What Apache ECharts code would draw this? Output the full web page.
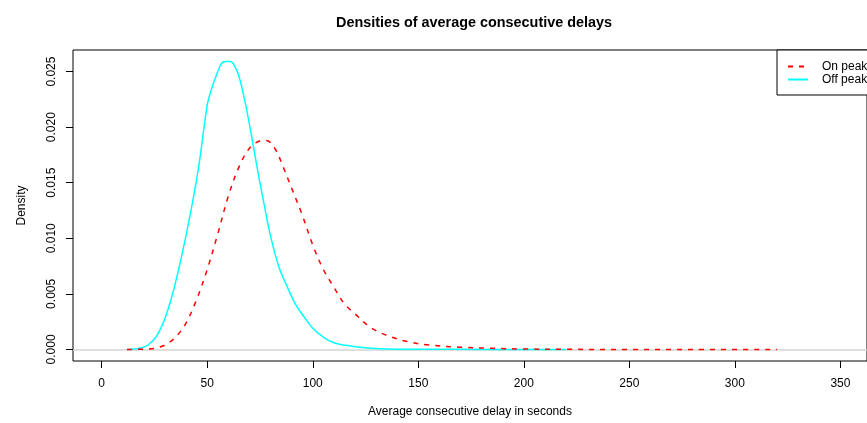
<!DOCTYPE html>
<html>
<head>
<meta charset="utf-8">
<script src="https://cdn.jsdelivr.net/npm/echarts@6/dist/echarts.min.js"></script>
<style>html,body{margin:0;padding:0;background:#fff;}#c{width:867px;height:423px;}</style>
</head>
<body>
<div id="c"></div>
<script>
var titleText = 'Densities of average consecutive delays';
var xName = 'Average consecutive delay in seconds';
var yName = 'Density';
var seriesNames = ['On peak', 'Off peak'];
var xTicks = [0, 50, 100, 150, 200, 250, 300, 350];
var yTicks = [0, 0.005, 0.010, 0.015, 0.020, 0.025];

var onX = [12, 20, 25, 30, 35, 40, 45, 50, 55, 60, 65, 70, 75, 78, 82, 86, 90, 95, 100, 105, 110, 115, 120, 128, 136, 145, 155, 170, 185, 200, 220, 250, 280, 320];
var onY = [0, 0.00003, 0.0001, 0.0004, 0.0011, 0.0024, 0.0045, 0.0072, 0.0104, 0.0138, 0.0164, 0.0181, 0.01875, 0.0188, 0.0181, 0.0164, 0.0145, 0.0121, 0.0094, 0.0072, 0.0056, 0.0041, 0.0032, 0.0019, 0.0012, 0.0007, 0.0004, 0.0002, 0.0001, 0.00004, 0.00001, 0, 0, 0];

var offX = [12, 18, 22, 26, 30, 34, 38, 42, 46, 50, 52, 55, 57, 59, 61, 63, 65, 68, 71, 74, 77, 80, 84, 88, 92, 96, 100, 105, 110, 118, 126, 135, 150, 170, 200, 220];
var offY = [0, 0.0001, 0.0004, 0.0012, 0.0028, 0.0053, 0.0085, 0.0122, 0.0165, 0.0220, 0.0234, 0.0250, 0.0258, 0.0259, 0.0259, 0.0255, 0.0246, 0.0222, 0.0192, 0.0160, 0.0130, 0.0102, 0.0074, 0.0056, 0.0040, 0.0029, 0.0019, 0.0011, 0.0006, 0.0003, 0.00012, 0.00005, 0.00002, 0.00001, 0, 0];

function pairs(xs, ys) { return xs.map(function (x, i) { return [x, ys[i]]; }); }

var font = 'Liberation Sans, Arial, Helvetica, sans-serif';
var chart = echarts.init(document.getElementById('c'), null, {renderer: 'canvas'});
chart.setOption({
  animation: false,
  backgroundColor: '#ffffff',
  title: {
    text: titleText, left: 469, top: 11, textAlign: 'center',
    textStyle: {fontFamily: font, fontSize: 14.4, fontWeight: 'bold', color: '#000'}
  },
  legend: {
    data: seriesNames, orient: 'vertical', left: 777, top: 50,
    padding: [10, 10, 9, 10], itemGap: 0, itemWidth: 20, itemHeight: 13,
    borderColor: '#000', borderWidth: 1, backgroundColor: '#fff',
    itemStyle: {color: 'transparent', borderColor: 'transparent', borderWidth: 0},
    textStyle: {fontFamily: font, fontSize: 12, lineHeight: 13, color: '#000', padding: [0, 0, 0, 9]}
  },
  grid: {left: 73, top: 50, right: -8, bottom: 62, show: true, borderColor: '#000', borderWidth: 1, backgroundColor: 'transparent'},
  xAxis: {
    type: 'value', min: -13.6, max: 362.6,
    name: xName, nameLocation: 'middle', nameGap: 45,
    nameTextStyle: {fontFamily: font, fontSize: 12, color: '#000'},
    axisLine: {show: false, onZero: false},
    axisTick: {show: true, length: 7, customValues: xTicks, lineStyle: {color: '#000'}},
    axisLabel: {customValues: xTicks, margin: 17, fontFamily: font, fontSize: 12, color: '#000'},
    splitLine: {show: false}
  },
  yAxis: {
    type: 'value', min: -0.00104, max: 0.02694,
    name: yName, nameLocation: 'middle', nameGap: 45,
    nameTextStyle: {fontFamily: font, fontSize: 12, color: '#000'},
    axisLine: {show: false, onZero: false},
    axisTick: {show: true, length: 7, customValues: yTicks, lineStyle: {color: '#000'}},
    axisLabel: {customValues: yTicks, rotate: 90, margin: 15, fontFamily: font, fontSize: 12, color: '#000',
      formatter: function (v) { return v.toFixed(3); }},
    splitLine: {show: false}
  },
  series: [
    {
      name: 'zero', type: 'line', data: [], z: 1, silent: true,
      markLine: {silent: true, symbol: 'none', label: {show: false}, z: 1,
        lineStyle: {color: '#d3d3d3', width: 1.5, type: 'solid'}, data: [{yAxis: 0}]}
    },
    {
      name: seriesNames[1], type: 'line', data: pairs(offX, offY), symbol: 'none', showSymbol: false,
      smooth: 0.35, z: 3,
      lineStyle: {color: '#00ffff', width: 1.5, type: 'solid'}, itemStyle: {color: '#00ffff'}
    },
    {
      name: seriesNames[0], type: 'line', data: pairs(onX, onY), symbol: 'none', showSymbol: false,
      smooth: 0.35, z: 4,
      lineStyle: {color: '#ff0000', width: 1.5, type: [5, 6]}, itemStyle: {color: '#ff0000'}
    }
  ]
});
</script>
</body>
</html>
